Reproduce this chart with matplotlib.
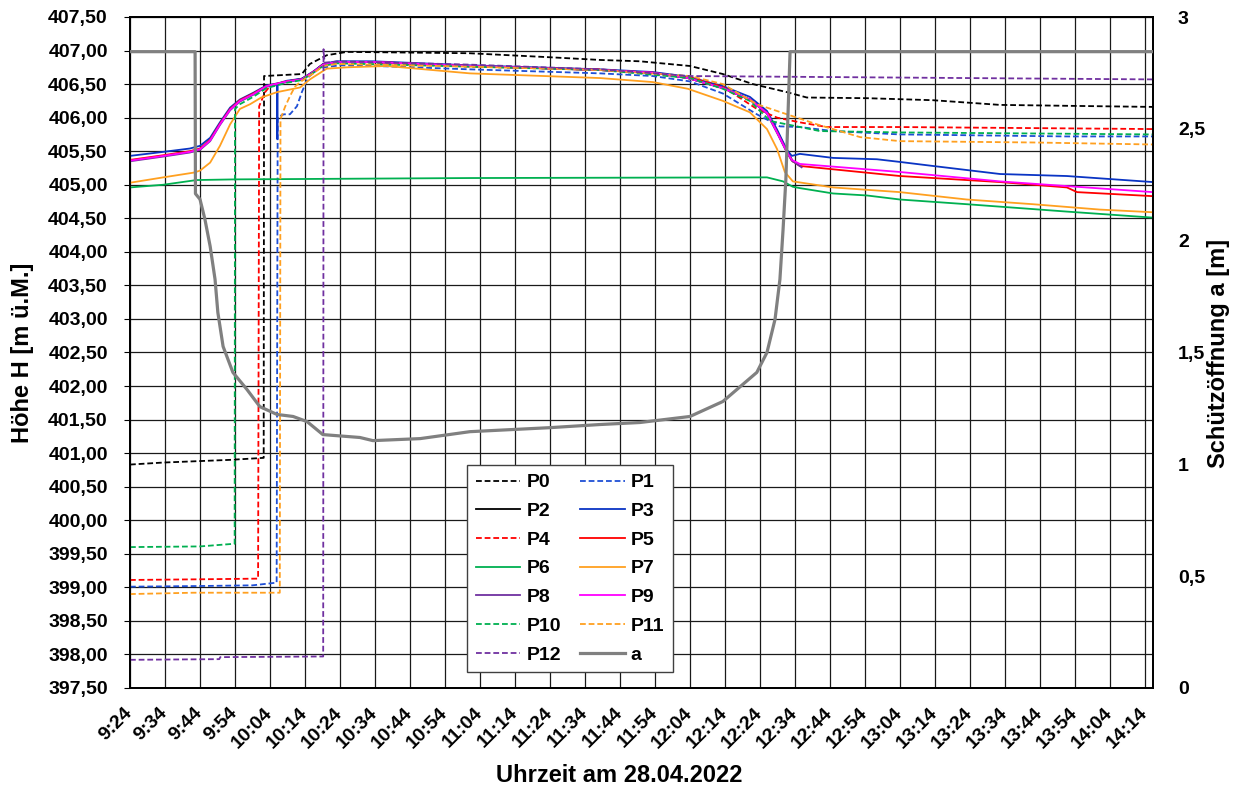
import matplotlib
matplotlib.use("Agg")
import matplotlib.pyplot as plt
from matplotlib.ticker import FixedLocator, FuncFormatter

plt.rcParams['font.family'] = ['Liberation Sans', 'DejaVu Sans']
plt.rcParams['font.weight'] = 'bold'

# time axis: minutes after 9:24 on 28.04.2022
START_MIN = 9 * 60 + 24
X_END = 292.3
TICK_STEP = 10

# ---- water levels H [m ü.M.] ----
p0_t = [0, 9.5, 28.6, 38.2, 38.3, 49.1, 51.4, 56.2, 62, 97, 120, 134.3, 145.7, 160, 169.4, 178, 187.7, 193.4, 210.6, 229.4, 248.6, 277.1, 292.3]
p0_h = [400.83, 400.86, 400.90, 400.93, 406.62, 406.65, 406.80, 406.93, 406.98, 406.96, 406.90, 406.86, 406.84, 406.77, 406.65, 406.50, 406.38, 406.30, 406.29, 406.26, 406.19, 406.17, 406.16]

p1_t = [0, 20, 35, 41.9, 42.2, 44, 45.7, 47.7, 49.1, 50.9, 54, 60, 70, 97, 134.3, 149.4, 160, 169.4, 179.1, 185.7, 191.4, 200.9, 220, 267.7, 292.3]
p1_h = [399.01, 399.02, 399.03, 399.07, 406.01, 406.05, 406.05, 406.17, 406.38, 406.60, 406.74, 406.78, 406.77, 406.72, 406.66, 406.62, 406.54, 406.36, 406.05, 405.87, 405.86, 405.80, 405.75, 405.72, 405.72]

p2_t = [39.7, 44.8, 49.1, 52.4, 55.2, 59, 69.5, 97.1, 134.3, 149.4, 159.4, 169.4, 177.1, 182, 184.9, 187.7, 189.4]
p2_h = [406.47, 406.54, 406.58, 406.68, 406.80, 406.83, 406.83, 406.77, 406.71, 406.67, 406.59, 406.44, 406.27, 406.07, 405.80, 405.50, 405.35]

p3_t = [0, 9.5, 17.1, 20, 22.9, 25.7, 28.6, 31.4, 35.2, 39, 42.0, 42.1, 42.2, 44.8, 49.1, 52.4, 55.2, 59, 69.5, 97.1, 134.3, 149.4, 159.4, 169.4, 177.1, 182, 184.9, 187.7, 189.1, 191.4, 200.9, 213.4, 220, 229.4, 248.6, 267.7, 292.3]
p3_h = [405.43, 405.49, 405.54, 405.58, 405.70, 405.93, 406.15, 406.27, 406.37, 406.48, 406.51, 405.68, 406.51, 406.55, 406.58, 406.69, 406.80, 406.84, 406.84, 406.78, 406.72, 406.68, 406.61, 406.47, 406.31, 406.10, 405.82, 405.52, 405.43, 405.46, 405.40, 405.38, 405.34, 405.28, 405.16, 405.13, 405.04]

p4_t = [0, 20, 36.6, 36.9, 38.6, 40, 44.8, 49.1, 52.4, 55.2, 59, 69.5, 97.1, 134.3, 160, 169.4, 179.1, 184.9, 191.4, 199.1, 220, 292.3]
p4_h = [399.11, 399.12, 399.13, 406.17, 406.38, 406.47, 406.54, 406.57, 406.68, 406.79, 406.83, 406.82, 406.76, 406.72, 406.60, 406.46, 406.13, 406.00, 405.93, 405.86, 405.86, 405.83]

p5_t = [0, 9.5, 17.1, 20, 22.9, 25.7, 28.6, 31.4, 35.2, 39, 44.8, 49.1, 52.4, 55.2, 59, 69.5, 97.1, 134.3, 149.4, 159.4, 169.4, 177.1, 182, 184.9, 187.7, 189.1, 191.4, 220, 248.6, 267.7, 270.6, 292.3]
p5_h = [405.37, 405.44, 405.50, 405.54, 405.67, 405.91, 406.13, 406.26, 406.36, 406.47, 406.54, 406.57, 406.68, 406.79, 406.83, 406.83, 406.77, 406.71, 406.67, 406.59, 406.44, 406.27, 406.07, 405.78, 405.49, 405.36, 405.28, 405.13, 405.04, 404.96, 404.89, 404.83]

p6_t = [0, 9.5, 19, 30, 97.1, 182, 186.6, 189.4, 191.4, 200.9, 210.6, 220, 239.1, 267.7, 292.3]
p6_h = [404.96, 405.00, 405.07, 405.08, 405.10, 405.11, 405.05, 404.97, 404.95, 404.87, 404.84, 404.78, 404.71, 404.60, 404.51]

p7_t = [0, 9.5, 18.1, 20, 22.9, 25.7, 28.6, 31.4, 34.3, 37.5, 42, 48.6, 51.4, 56.2, 62, 73.3, 97.1, 134.3, 149.4, 159.4, 169.4, 177.1, 182, 184.9, 187.1, 189.4, 200.9, 220, 239.1, 258, 277.1, 292.3]
p7_h = [405.03, 405.11, 405.18, 405.21, 405.33, 405.58, 405.90, 406.13, 406.20, 406.30, 406.38, 406.45, 406.57, 406.73, 406.75, 406.77, 406.66, 406.59, 406.53, 406.43, 406.25, 406.08, 405.83, 405.53, 405.19, 405.05, 404.96, 404.89, 404.78, 404.71, 404.63, 404.59]

p8_t = [0, 9.5, 17.1, 20, 22.9, 25.7, 28.6, 31.4, 35.2, 39, 44.8, 49.1, 52.4, 55.2, 59, 69.5, 97.1, 134.3, 149.4, 159.4, 169.4, 177.1, 182, 184.9, 187.7, 189.1, 191.9]
p8_h = [405.35, 405.42, 405.48, 405.52, 405.65, 405.89, 406.11, 406.24, 406.34, 406.46, 406.53, 406.57, 406.67, 406.79, 406.83, 406.83, 406.77, 406.71, 406.67, 406.59, 406.44, 406.27, 406.06, 405.77, 405.48, 405.36, 405.26]

p9_t = [0, 9.5, 17.1, 20, 22.9, 25.7, 28.6, 31.4, 35.2, 39, 44.8, 49.1, 52.4, 55.2, 59, 69.5, 97.1, 134.3, 149.4, 159.4, 169.4, 177.1, 182, 184.9, 187.7, 189.1, 191.4, 220, 248.6, 267.7, 292.3]
p9_h = [405.36, 405.43, 405.49, 405.53, 405.66, 405.90, 406.12, 406.25, 406.35, 406.47, 406.54, 406.57, 406.68, 406.79, 406.83, 406.83, 406.77, 406.71, 406.67, 406.59, 406.44, 406.27, 406.07, 405.78, 405.49, 405.37, 405.31, 405.19, 405.05, 404.98, 404.89]

p10_t = [0, 20, 29.9, 30.0, 31.4, 35.2, 39, 44.8, 49.1, 52.4, 55.2, 59, 97.1, 134.3, 160, 169.4, 177.1, 182.9, 187.7, 197.1, 220, 292.3]
p10_h = [399.60, 399.61, 399.65, 406.13, 406.20, 406.31, 406.44, 406.52, 406.56, 406.67, 406.77, 406.81, 406.76, 406.71, 406.59, 406.43, 406.25, 405.95, 405.90, 405.80, 405.78, 405.75]

p11_t = [0, 18, 42.8, 43.0, 44.3, 45.7, 47.1, 48.6, 52.4, 55.2, 59, 97.1, 134.3, 160, 169.4, 179.1, 187.7, 196.3, 208.6, 220, 258, 292.3]
p11_h = [398.90, 398.92, 398.92, 405.98, 406.16, 406.32, 406.46, 406.53, 406.66, 406.77, 406.80, 406.76, 406.71, 406.62, 406.50, 406.20, 406.05, 405.90, 405.71, 405.65, 405.63, 405.60]

p12_t = [0, 25.5, 25.8, 55.2, 55.3, 55.6, 60, 97.1, 134.3, 150, 160, 292.3]
p12_h = [397.92, 397.93, 397.96, 397.97, 407.02, 406.82, 406.84, 406.79, 406.72, 406.66, 406.62, 406.57]

# ---- gate opening a [m] ----
a_t = [0, 18.6, 18.7, 20, 21.4, 22.9, 24.3, 25.1, 26.6, 29.4, 33.4, 37.1, 42, 46.6, 50.6, 55.1, 65.7, 69.4, 82.9, 97.1, 120, 134.3, 145.7, 160, 169.4, 179.1, 182, 184.3, 185.7, 186.6, 187.4, 188.6, 292.3]
a_v = [2.845, 2.845, 2.21, 2.185, 2.096, 1.975, 1.827, 1.679, 1.527, 1.411, 1.335, 1.258, 1.223, 1.214, 1.191, 1.133, 1.120, 1.106, 1.115, 1.146, 1.164, 1.178, 1.187, 1.214, 1.281, 1.411, 1.500, 1.648, 1.827, 2.050, 2.275, 2.845, 2.845]

names = ['P0', 'P1', 'P2', 'P3', 'P4', 'P5', 'P6', 'P7', 'P8', 'P9', 'P10', 'P11', 'P12']
times = [p0_t, p1_t, p2_t, p3_t, p4_t, p5_t, p6_t, p7_t, p8_t, p9_t, p10_t, p11_t, p12_t]
levels = [p0_h, p1_h, p2_h, p3_h, p4_h, p5_h, p6_h, p7_h, p8_h, p9_h, p10_h, p11_h, p12_h]
colors = ['#000000', '#1f4fd6', '#000000', '#0a34c4', '#ff0000', '#ff0000', '#00b050',
          '#ffa020', '#7030a0', '#ff00ff', '#00b050', '#ffa020', '#7030a0']
dashed = [True, True, False, False, True, False, False, False, False, False, True, True, True]

W, H = 1238, 789
fig = plt.figure(figsize=(W / 100, H / 100), dpi=100)
L, R, T, B = 130, 1153, 17, 688
ax = fig.add_axes([L / W, 1 - B / H, (R - L) / W, (B - T) / H])
ax2 = ax.twinx()

handles = []
for n, t, h, c, d in zip(names, times, levels, colors, dashed):
    ls = (0, (3.2, 1.6)) if d else '-'
    ln, = ax.plot(t, h, color=c, lw=1.3, ls=ls, label=n, zorder=3)
    handles.append(ln)
ln_a, = ax2.plot(a_t, a_v, color='#808080', lw=2.3, label='a', zorder=3)

ax.set_xlim(0, X_END)
ax.set_ylim(397.5, 407.5)
ax2.set_ylim(0, 3)

xt = list(range(0, 291, TICK_STEP))
ax.xaxis.set_major_locator(FixedLocator(xt))
ax.xaxis.set_major_formatter(FuncFormatter(
    lambda v, p: f"{int((START_MIN + v) // 60)}:{int((START_MIN + v) % 60):02d}"))
yt = [397.5 + 0.5 * i for i in range(21)]
ax.yaxis.set_major_locator(FixedLocator(yt))
ax.yaxis.set_major_formatter(FuncFormatter(lambda v, p: f"{v:.2f}".replace('.', ',')))
ax2.yaxis.set_major_locator(FixedLocator([0, 0.5, 1, 1.5, 2, 2.5, 3]))
ax2.yaxis.set_major_formatter(FuncFormatter(lambda v, p: f"{v:g}".replace('.', ',')))

ax.grid(True, color='#1a1a1a', lw=0.9, zorder=0)
ax.set_axisbelow(True)

for s in ax.spines.values():
    s.set_linewidth(1.3)
for s in ax2.spines.values():
    s.set_linewidth(1.3)

ax.tick_params(axis='x', length=0, pad=16, labelsize=14)
for lab in ax.get_xticklabels():
    lab.set_rotation(45)
    lab.set_ha('right')
    lab.set_va('center')
    lab.set_rotation_mode('anchor')
ax.tick_params(axis='y', length=4, pad=12, labelsize=14)
ax2.tick_params(axis='y', length=0, pad=18, labelsize=14)

fig.text(23 / W, 1 - 353 / H, 'Höhe H [m ü.M.]', rotation=90, ha='center', va='center',
         fontsize=17, fontweight='bold')
fig.text(1218 / W, 1 - 353 / H, 'Schützöffnung a [m]', rotation=90, ha='center', va='center',
         fontsize=17, fontweight='bold')
fig.text(619 / W, 1 - 776 / H, 'Uhrzeit am 28.04.2022', ha='center', va='center',
         fontsize=17, fontweight='bold')

order = handles[0::2] + handles[1::2] + [ln_a]
leg = ax2.legend(order, [h.get_label() for h in order], ncol=2, loc='upper left',
                 bbox_to_anchor=((467 - L) / (R - L), (B - 465) / (B - T)),
                 borderaxespad=0, fontsize=14, frameon=True, fancybox=False,
                 handlelength=2.3, handletextpad=0.3, columnspacing=1.0,
                 labelspacing=0.57, borderpad=0.45)
leg.get_frame().set_edgecolor('#404040')
leg.get_frame().set_linewidth(1.0)
leg.get_frame().set_alpha(1)
leg.set_zorder(10)

fig.savefig('out.png', dpi=100)
